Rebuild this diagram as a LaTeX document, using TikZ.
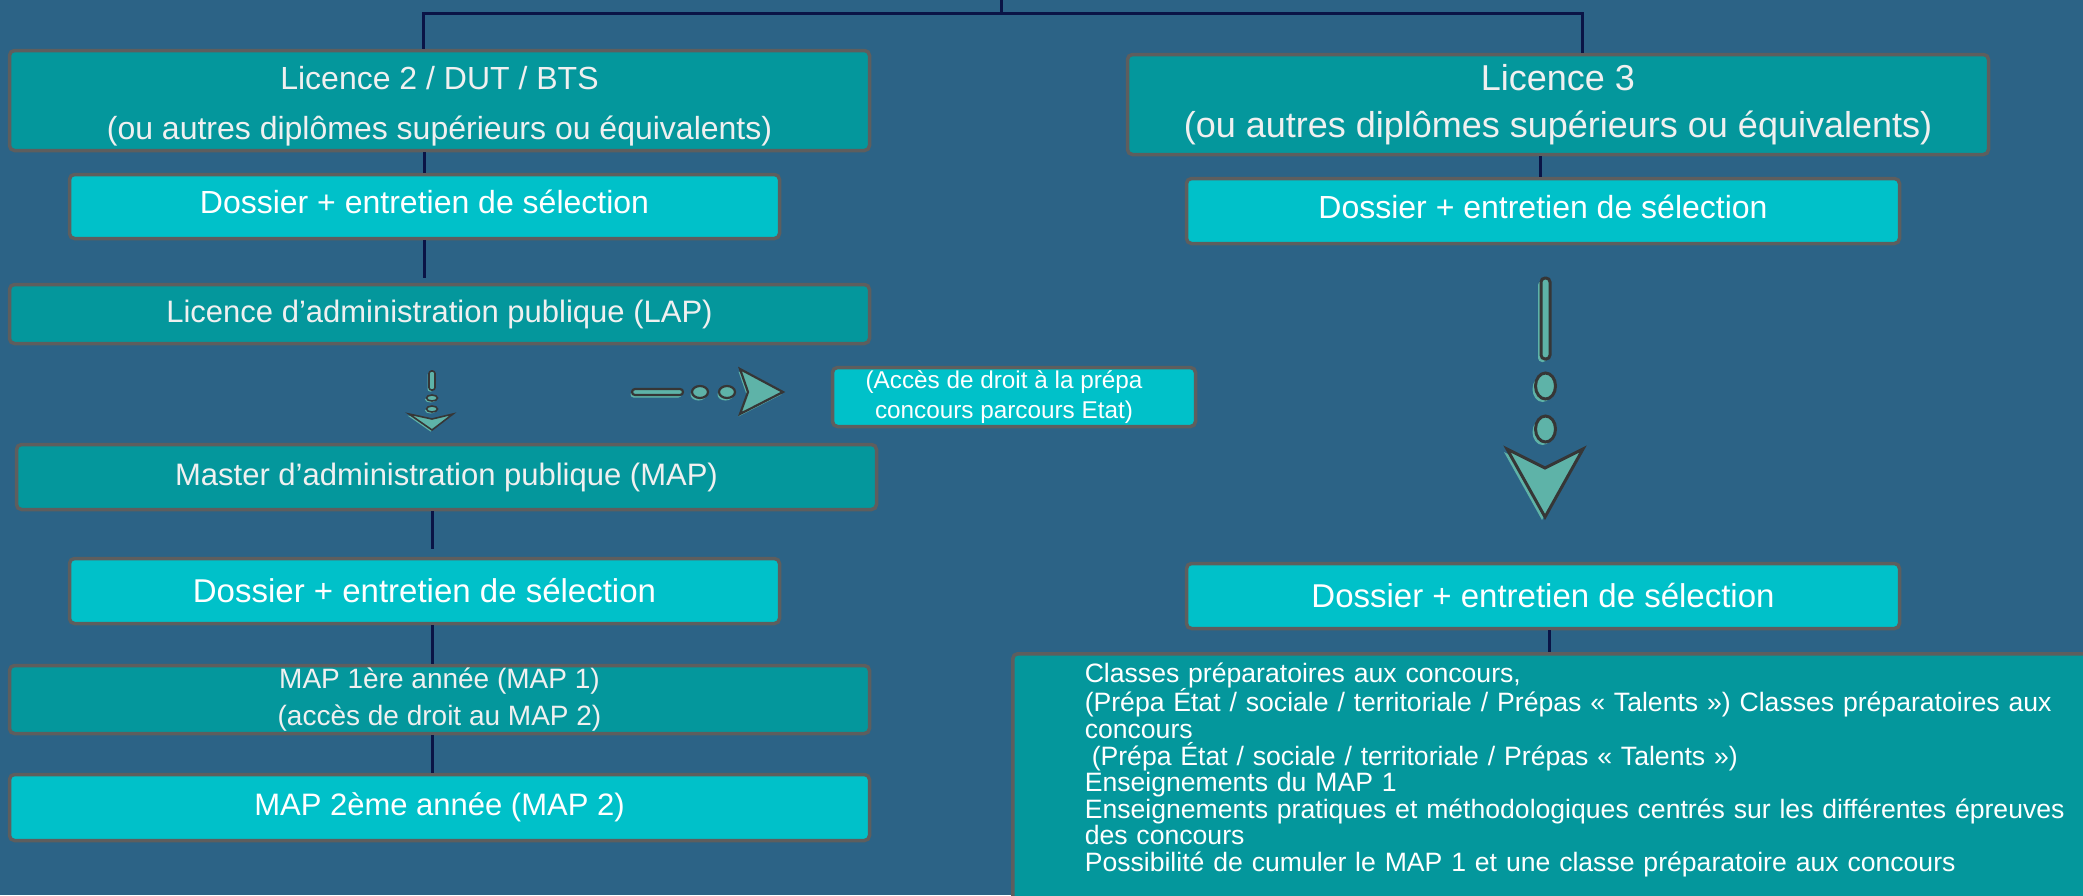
\documentclass[tikz,border=0pt]{standalone}
\usepackage{fontspec}
\setmainfont{Liberation Sans}
\definecolor{bgblue}{HTML}{2C6386}
\definecolor{tealdark}{HTML}{04979C}
\definecolor{cyanlight}{HTML}{00C1C9}
\definecolor{boxborder}{HTML}{5E5E5E}
\definecolor{navyline}{HTML}{0A1446}
\definecolor{arrfill}{HTML}{5EB3A8}
\definecolor{arrline}{HTML}{363636}
\definecolor{offwhite}{HTML}{F0F0F0}
\newcommand{\fsz}[2]{\fontsize{#1}{#2}\selectfont}
\begin{document}
\begin{tikzpicture}[x=1pt,y=-1pt,
  box/.style={draw=boxborder, line width=3.5pt, rounded corners=5pt, inner sep=0pt, align=center, text=offwhite},
  darkbox/.style={box, fill=tealdark},
  lightbox/.style={box, fill=cyanlight, text=white},
  conn/.style={draw=navyline, line width=3pt},
  arrsh/.style={fill=arrfill},
  arrout/.style={draw=arrline, fill=arrfill, line join=miter}]

\fill[bgblue] (0,0) rectangle (2083,895);
\useasboundingbox (0,0) rectangle (2083,895);

% left column
\node[darkbox, minimum width=860pt, minimum height=100pt, text height=84pt, font=\fsz{32}{50}] (L2) at (439.5,100.5) {Licence 2 / DUT / BTS\\(ou autres diplômes supérieurs ou équivalents)};
\node[lightbox, minimum width=710pt, minimum height=64pt, font=\fsz{32}{38}] (D1) at (424.5,206.5) {\raisebox{9pt}{Dossier + entretien de sélection}};
\node[darkbox, minimum width=860pt, minimum height=59pt, font=\fsz{31}{37}] (LAP) at (439.5,314) {Licence d’administration publique (LAP)};
\node[lightbox, minimum width=363pt, minimum height=59pt, font=\fsz{24.3}{30}] (ACC) at (1014,397) {(Accès de droit à la prépa\hspace*{20pt}\\concours parcours Etat)\hspace*{20pt}};
\node[darkbox, minimum width=860pt, minimum height=65pt, font=\fsz{31}{37}] (MAP) at (446.5,477) {Master d’administration publique (MAP)};
\node[lightbox, minimum width=710pt, minimum height=65pt, font=\fsz{33}{39}] (D2) at (424.5,591) {Dossier + entretien de sélection};
\node[darkbox, minimum width=860pt, minimum height=68pt, font=\fsz{28}{37}] (MAP1) at (439.5,699.5) {MAP 1ère année (MAP 1)\\(accès de droit au MAP 2)};
\node[lightbox, minimum width=860pt, minimum height=66pt, font=\fsz{31}{37}] (MAP2) at (439.5,807.5) {\raisebox{-3pt}{MAP 2ème année (MAP 2)}};

% right column
\node[darkbox, minimum width=861pt, minimum height=100pt, font=\fsz{36}{47}] (L3) at (1558,104.5) {Licence 3\\(ou autres diplômes supérieurs ou équivalents)};
\node[lightbox, minimum width=713pt, minimum height=65pt, font=\fsz{32}{38}] (DR1) at (1543,211) {\raisebox{9pt}{Dossier + entretien de sélection}};
\node[lightbox, minimum width=713pt, minimum height=65pt, font=\fsz{33}{39}] (DR2) at (1543,596) {Dossier + entretien de sélection};
\node[darkbox, anchor=north west, text=white, align=left, text width=1000pt, inner xsep=72pt, inner ysep=9pt, font=\fsz{26.6}{26.6}] (PREP) at (1011,652) {Classes préparatoires aux concours,\\
(Prépa État / sociale / territoriale / Prépas « Talents ») Classes préparatoires aux\\
concours\\
\hspace*{7pt}(Prépa État / sociale / territoriale / Prépas « Talents »)\\
Enseignements du MAP 1\\
Enseignements pratiques et méthodologiques centrés sur les différentes épreuves\\
des concours\\
Possibilité de cumuler le MAP 1 et une classe préparatoire aux concours\rule[-40pt]{0pt}{40pt}};

% connectors
\coordinate (top) at (1001,0);
\coordinate (hl) at (423,13);
\coordinate (hr) at (1582,13);
\draw[conn] (top) -- (top |- hl);
\draw[conn] (L2.north -| hl) -- (hl) -- (hr) -- (L3.north -| hr);
\draw[conn] (D1.north) -- (D1.north |- L2.south);
\draw[conn, shorten >=5pt] (D1.south) -- (D1.south |- LAP.north);
\draw[conn, shorten >=8pt] ([xshift=7.5pt]D2.north |- MAP.south) -- ([xshift=7.5pt]D2.north);
\draw[conn] ([xshift=7.5pt]D2.south) -- ([xshift=7.5pt]D2.south |- MAP1.north);
\draw[conn] ([xshift=-7.5pt]MAP1.south) -- ([xshift=-7.5pt]MAP1.south |- MAP2.north);
\draw[conn] ([xshift=-3pt]DR1.north) -- ([xshift=-3pt]DR1.north |- L3.south);
\draw[conn] ([xshift=6pt]DR2.south) -- ([xshift=6pt]DR2.south |- PREP.north);

% small down arrow (LAP -> MAP)
\begin{scope}[shift={(-1.5,1.5)}]
  \fill[arrsh, rounded corners=2.5pt] (429,371) rectangle (435,390);
  \fill[arrsh] (432,398) ellipse [x radius=5.5, y radius=3];
  \fill[arrsh] (432,409) ellipse [x radius=5.5, y radius=3];
  \fill[arrsh] (409,414) -- (432,419) -- (453,414) -- (432,430) -- cycle;
\end{scope}
\draw[arrout, line width=1.6pt, rounded corners=2.5pt] (429,371) rectangle (435,390);
\draw[arrout, line width=1.6pt] (432,398) ellipse [x radius=5.5, y radius=3];
\draw[arrout, line width=1.6pt] (432,409) ellipse [x radius=5.5, y radius=3];
\draw[arrout, line width=1.6pt] (409,414) -- (432,419) -- (453,414) -- (432,430) -- cycle;

% right arrow (LAP -> Acces)
\begin{scope}[shift={(-1.5,2.5)}]
  \fill[arrsh, rounded corners=3pt] (632,389) rectangle (683,395);
  \fill[arrsh] (700,392) ellipse [x radius=8, y radius=6];
  \fill[arrsh] (727,392) ellipse [x radius=8, y radius=6];
  \fill[arrsh] (740,369) -- (783,392) -- (740,414) -- (748,392) -- cycle;
\end{scope}
\draw[arrout, line width=2.2pt, rounded corners=3pt] (632,389) rectangle (683,395);
\draw[arrout, line width=2.2pt] (700,392) ellipse [x radius=8, y radius=6];
\draw[arrout, line width=2.2pt] (727,392) ellipse [x radius=8, y radius=6];
\draw[arrout, line width=2.2pt] (740,369) -- (783,392) -- (740,414) -- (748,392) -- cycle;

% big down arrow (DR1 -> DR2)
\begin{scope}[shift={(-3,3)}]
  \fill[arrsh, rounded corners=4pt] (1541,278) rectangle (1550,359);
  \fill[arrsh] (1545.5,386) ellipse [x radius=10, y radius=13];
  \fill[arrsh] (1545.5,429) ellipse [x radius=10, y radius=13];
  \fill[arrsh] (1507,449) -- (1545,468) -- (1583,449) -- (1545,517) -- cycle;
\end{scope}
\draw[arrout, line width=3pt, rounded corners=4pt] (1541,278) rectangle (1550,359);
\draw[arrout, line width=3pt] (1545.5,386) ellipse [x radius=10, y radius=13];
\draw[arrout, line width=3pt] (1545.5,429) ellipse [x radius=10, y radius=13];
\draw[arrout, line width=3pt] (1507,449) -- (1545,468) -- (1583,449) -- (1545,517) -- cycle;
\end{tikzpicture}
\end{document}
